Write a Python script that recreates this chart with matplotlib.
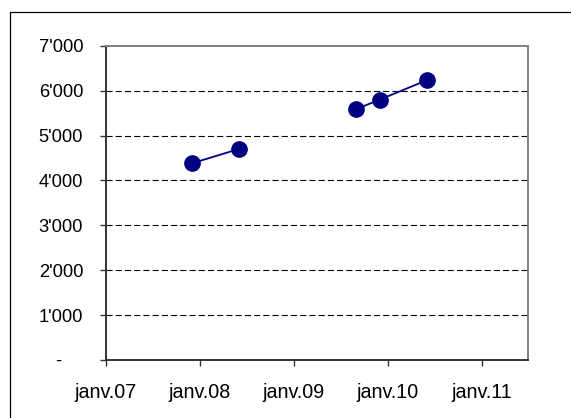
import matplotlib
matplotlib.use("Agg")
import matplotlib.pyplot as plt
import matplotlib.dates as mdates
from matplotlib.patches import Rectangle
from matplotlib.ticker import FuncFormatter, FixedLocator
import numpy as np
import datetime as dt

# Observations (None = no value, breaks the line)
dates = ["2007-12-01", "2008-06-01", "2009-03-01", "2009-09-01", "2009-12-01", "2010-06-01"]
values = [4380, 4700, None, 5590, 5800, 6230]

y_ticks = [0, 1000, 2000, 3000, 4000, 5000, 6000, 7000]
x_ticks = ["2007-01-01", "2008-01-01", "2009-01-01", "2010-01-01", "2011-01-01"]
x_tick_labels = ["janv.07", "janv.08", "janv.09", "janv.10", "janv.11"]

plt.rcParams['font.family'] = ['Liberation Sans', 'DejaVu Sans']

fig = plt.figure(figsize=(5.71, 4.18), dpi=100)
fig.patches.append(Rectangle((10 / 571, -0.1), 1.2, 1.1 - 12 / 418, transform=fig.transFigure,
                             fill=False, edgecolor="black", linewidth=0.9))

ax = fig.add_axes([106 / 571, 1 - 360 / 418, (528 - 106) / 571, (360 - 45.7) / 418])

xd = [mdates.date2num(dt.datetime.fromisoformat(d)) for d in dates]
yv = np.array([np.nan if v is None else v for v in values], dtype=float)
ax.plot(xd, yv, color="#000080", linewidth=1.3, marker="o", markersize=11,
        markerfacecolor="#000080", markeredgecolor="#000080", zorder=3)

ax.set_xlim(mdates.date2num(dt.datetime(2007, 1, 1)), mdates.date2num(dt.datetime(2011, 6, 30)))
ax.set_ylim(0, 7000)

xt = [mdates.date2num(dt.datetime.fromisoformat(d)) for d in x_ticks]
ax.xaxis.set_major_locator(FixedLocator(xt))
ax.set_xticklabels(x_tick_labels)
ax.set_yticks(y_ticks)


def fmt(v, pos):
    if v == 0:
        return "-\u2007\u2007"
    return f"{int(v):,}".replace(",", "'")


ax.yaxis.set_major_formatter(FuncFormatter(fmt))

for y in y_ticks[1:-1]:
    ax.axhline(y, color="black", linewidth=0.8, dashes=(5.5, 2.8), zorder=1)

for s in ("left", "bottom"):
    ax.spines[s].set_color("#333333")
    ax.spines[s].set_linewidth(1.4)
for s in ("top", "right"):
    ax.spines[s].set_color("#808080")
    ax.spines[s].set_linewidth(1.4)

ax.tick_params(axis="both", which="major", direction="out", length=4.5, width=1.0,
               color="#333333", labelcolor="black")
ax.tick_params(axis="y", pad=12, labelsize=13.2)
ax.tick_params(axis="x", pad=12, labelsize=14.2)

fig.savefig("out.png", dpi=100)
